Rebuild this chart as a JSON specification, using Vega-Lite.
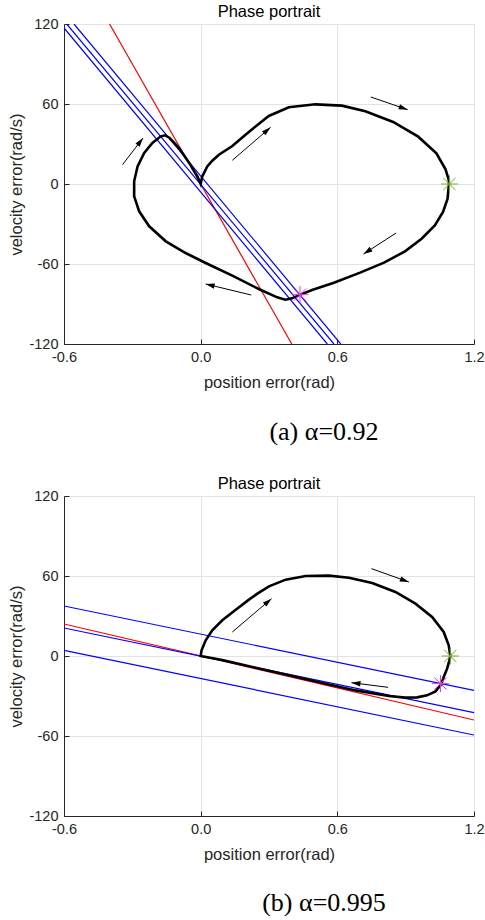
{
  "$schema": "https://vega.github.io/schema/vega-lite/v6.json",
  "padding": {"left": 8, "top": 3, "right": 0, "bottom": 0},
  "spacing": 30,
  "config": {
    "view": {"stroke": "#d9d9d9"},
    "axis": {"domainColor": "#262626", "tickColor": "#262626", "labelColor": "#262626", "titleColor": "#262626", "gridColor": "#e3e3e3", "labelFont": "Liberation Sans", "titleFont": "Liberation Sans", "labelFontSize": 14.5, "titleFontSize": 16.5, "titleFontWeight": "normal", "tickSize": -5, "labelPadding": 11, "labelFlush": false, "labelOverlap": false},
    "title": {"font": "Liberation Sans", "fontSize": 16.5, "fontWeight": "normal", "color": "#000000", "offset": -4}
  },
  "datasets": {
    "lines": [
      {"p": "a", "id": "r", "c": "red", "x": -0.4, "y": 120}, {"p": "a", "id": "r", "c": "red", "x": 0.4, "y": -120},
      {"p": "a", "id": "b1", "c": "blue", "x": -0.6, "y": 117}, {"p": "a", "id": "b1", "c": "blue", "x": 0.556, "y": -120},
      {"p": "a", "id": "b2", "c": "blue", "x": -0.588, "y": 120}, {"p": "a", "id": "b2", "c": "blue", "x": 0.585, "y": -120},
      {"p": "a", "id": "b3", "c": "blue", "x": -0.556, "y": 120}, {"p": "a", "id": "b3", "c": "blue", "x": 0.615, "y": -120},
      {"p": "b", "id": "r", "c": "red", "x": -0.6, "y": 24}, {"p": "b", "id": "r", "c": "red", "x": 1.2, "y": -48},
      {"p": "b", "id": "b1", "c": "blue", "x": -0.6, "y": 37.5}, {"p": "b", "id": "b1", "c": "blue", "x": 1.2, "y": -25.75},
      {"p": "b", "id": "b2", "c": "blue", "x": -0.6, "y": 21}, {"p": "b", "id": "b2", "c": "blue", "x": 1.2, "y": -42.5},
      {"p": "b", "id": "b3", "c": "blue", "x": -0.6, "y": 4.25}, {"p": "b", "id": "b3", "c": "blue", "x": 1.2, "y": -59.25}
    ],
    "traj": [
      {"p": "a", "i": 1, "x": 1.09, "y": 0}, {"p": "a", "i": 2, "x": 1.084, "y": -11}, {"p": "a", "i": 3, "x": 1.064, "y": -21},
      {"p": "a", "i": 4, "x": 1.028, "y": -31}, {"p": "a", "i": 5, "x": 0.97, "y": -41}, {"p": "a", "i": 6, "x": 0.897, "y": -50.5},
      {"p": "a", "i": 7, "x": 0.805, "y": -59}, {"p": "a", "i": 8, "x": 0.7, "y": -66.5}, {"p": "a", "i": 9, "x": 0.585, "y": -74},
      {"p": "a", "i": 10, "x": 0.489, "y": -79.5}, {"p": "a", "i": 11, "x": 0.438, "y": -83}, {"p": "a", "i": 12, "x": 0.401, "y": -85.75},
      {"p": "a", "i": 13, "x": 0.372, "y": -86.75}, {"p": "a", "i": 14, "x": 0.336, "y": -85}, {"p": "a", "i": 15, "x": 0.255, "y": -78.75},
      {"p": "a", "i": 16, "x": 0.139, "y": -68.75}, {"p": "a", "i": 17, "x": 0.022, "y": -59.25}, {"p": "a", "i": 18, "x": -0.066, "y": -51.75},
      {"p": "a", "i": 19, "x": -0.153, "y": -43}, {"p": "a", "i": 20, "x": -0.226, "y": -31.75}, {"p": "a", "i": 21, "x": -0.27, "y": -20.5},
      {"p": "a", "i": 22, "x": -0.292, "y": -9.25}, {"p": "a", "i": 23, "x": -0.292, "y": 2}, {"p": "a", "i": 24, "x": -0.277, "y": 13.25},
      {"p": "a", "i": 25, "x": -0.248, "y": 23.25}, {"p": "a", "i": 26, "x": -0.212, "y": 30.75}, {"p": "a", "i": 27, "x": -0.175, "y": 35.75},
      {"p": "a", "i": 28, "x": -0.156, "y": 36.5}, {"p": "a", "i": 29, "x": -0.136, "y": 34.5}, {"p": "a", "i": 30, "x": -0.095, "y": 27},
      {"p": "a", "i": 31, "x": -0.051, "y": 16}, {"p": "a", "i": 32, "x": -0.015, "y": 6}, {"p": "a", "i": 33, "x": 0, "y": 0},
      {"p": "a", "i": 34, "x": 0.007, "y": 5.7}, {"p": "a", "i": 35, "x": 0.029, "y": 13.2}, {"p": "a", "i": 36, "x": 0.051, "y": 17.5},
      {"p": "a", "i": 37, "x": 0.08, "y": 22}, {"p": "a", "i": 38, "x": 0.139, "y": 28.5}, {"p": "a", "i": 39, "x": 0.197, "y": 37},
      {"p": "a", "i": 40, "x": 0.241, "y": 43.2}, {"p": "a", "i": 41, "x": 0.299, "y": 51}, {"p": "a", "i": 42, "x": 0.387, "y": 57.5},
      {"p": "a", "i": 43, "x": 0.504, "y": 59.75}, {"p": "a", "i": 44, "x": 0.62, "y": 58.75}, {"p": "a", "i": 45, "x": 0.723, "y": 54.5},
      {"p": "a", "i": 46, "x": 0.845, "y": 46.5}, {"p": "a", "i": 47, "x": 0.955, "y": 35.5}, {"p": "a", "i": 48, "x": 1.035, "y": 23},
      {"p": "a", "i": 49, "x": 1.075, "y": 11}, {"p": "a", "i": 50, "x": 1.089, "y": 3.25}, {"p": "a", "i": 51, "x": 1.09, "y": 0},
      {"p": "b", "i": 1, "x": 1.096, "y": 0}, {"p": "b", "i": 2, "x": 1.092, "y": -3.25}, {"p": "b", "i": 3, "x": 1.082, "y": -9.5},
      {"p": "b", "i": 4, "x": 1.067, "y": -15.75}, {"p": "b", "i": 5, "x": 1.056, "y": -21.25}, {"p": "b", "i": 6, "x": 1.031, "y": -26.5},
      {"p": "b", "i": 7, "x": 0.994, "y": -29.5}, {"p": "b", "i": 8, "x": 0.95, "y": -31}, {"p": "b", "i": 9, "x": 0.899, "y": -31.2},
      {"p": "b", "i": 10, "x": 0.826, "y": -30}, {"p": "b", "i": 11, "x": 0.68, "y": -25.8}, {"p": "b", "i": 12, "x": 0.534, "y": -20.2},
      {"p": "b", "i": 13, "x": 0.387, "y": -14.5}, {"p": "b", "i": 14, "x": 0.241, "y": -8.8}, {"p": "b", "i": 15, "x": 0.095, "y": -3},
      {"p": "b", "i": 16, "x": 0, "y": 0}, {"p": "b", "i": 17, "x": 0.004, "y": 4.25}, {"p": "b", "i": 18, "x": 0.022, "y": 11.75},
      {"p": "b", "i": 19, "x": 0.051, "y": 19.25}, {"p": "b", "i": 20, "x": 0.095, "y": 26.75}, {"p": "b", "i": 21, "x": 0.154, "y": 34.75},
      {"p": "b", "i": 22, "x": 0.212, "y": 42.25}, {"p": "b", "i": 23, "x": 0.249, "y": 46.75}, {"p": "b", "i": 24, "x": 0.3, "y": 52.25},
      {"p": "b", "i": 25, "x": 0.373, "y": 57.25}, {"p": "b", "i": 26, "x": 0.461, "y": 60}, {"p": "b", "i": 27, "x": 0.563, "y": 60.25},
      {"p": "b", "i": 28, "x": 0.651, "y": 58.75}, {"p": "b", "i": 29, "x": 0.753, "y": 54.75}, {"p": "b", "i": 30, "x": 0.855, "y": 48},
      {"p": "b", "i": 31, "x": 0.943, "y": 39.25}, {"p": "b", "i": 32, "x": 1.016, "y": 29.25}, {"p": "b", "i": 33, "x": 1.067, "y": 18},
      {"p": "b", "i": 34, "x": 1.089, "y": 8}, {"p": "b", "i": 35, "x": 1.096, "y": 0}
    ],
    "arrows": [
      {"p": "a", "x": -0.343, "y": 14.5, "x2": -0.253, "y2": 34.5},
      {"p": "a", "x": 0.139, "y": 17.75, "x2": 0.307, "y2": 42.5},
      {"p": "a", "x": 0.747, "y": 65.25, "x2": 0.909, "y2": 55.75},
      {"p": "a", "x": 0.858, "y": -36.75, "x2": 0.715, "y2": -52.5},
      {"p": "a", "x": 0.222, "y": -83.25, "x2": 0.022, "y2": -75},
      {"p": "b", "x": 0.139, "y": 18, "x2": 0.311, "y2": 43},
      {"p": "b", "x": 0.75, "y": 65.5, "x2": 0.914, "y2": 55.5},
      {"p": "b", "x": 0.823, "y": -23.5, "x2": 0.662, "y2": -20}
    ],
    "stars": [
      {"p": "a", "c": "g", "x": 1.092, "y": 0}, {"p": "a", "c": "m", "x": 0.436, "y": -83},
      {"p": "b", "c": "g", "x": 1.096, "y": 0}, {"p": "b", "c": "m", "x": 1.053, "y": -20.7}
    ]
  },
  "vconcat": [
    {
      "title": {"text": "(a) α=0.92", "orient": "bottom", "font": "Liberation Serif", "fontSize": 26, "fontWeight": "normal", "dx": 260, "offset": 27, "anchor": "middle", "frame": "group", "color": "#000000"},
      "vconcat": [
        {
          "title": {"text": "Phase portrait", "frame": "group"},
          "width": 410, "height": 320,
          "resolve": {"scale": {"color": "independent"}},
          "encoding": {
            "x": {"field": "x", "type": "quantitative", "scale": {"domain": [-0.6, 1.2], "nice": false, "zero": false}, "axis": {"title": "position error(rad)", "values": [-0.6, 0, 0.6, 1.2], "labelExpr": "replace(datum.label, '−', '-')", "titlePadding": 11}},
            "y": {"field": "y", "type": "quantitative", "scale": {"domain": [-120, 120], "nice": false, "zero": false}, "axis": {"title": "velocity error(rad/s)", "values": [-120, -60, 0, 60, 120], "labelExpr": "replace(datum.label, '−', '-')", "titlePadding": 4}}
          },
          "layer": [
            {"data": {"name": "lines"}, "transform": [{"filter": "datum.p === 'a'"}], "mark": {"type": "line", "strokeWidth": 1.2, "clip": true},
             "encoding": {"color": {"field": "c", "type": "nominal", "scale": {"domain": ["blue", "red"], "range": ["#0000ff", "#ff0000"]}, "legend": null}, "detail": {"field": "id"}}},
            {"data": {"name": "traj"}, "transform": [{"filter": "datum.p === 'a'"}], "mark": {"type": "line", "strokeWidth": 2.6, "color": "#000000", "clip": true},
             "encoding": {"order": {"field": "i", "type": "quantitative"}}},
            {"data": {"name": "arrows"}, "transform": [{"filter": "datum.p === 'a'"}], "mark": {"type": "rule", "strokeWidth": 1, "color": "#000000"},
             "encoding": {"x2": {"field": "x2"}, "y2": {"field": "y2"}}},
            {"data": {"name": "arrows"}, "transform": [{"filter": "datum.p === 'a'"}, {"calculate": "atan2((datum.x2 - datum.x) * 228, (datum.y2 - datum.y) * 4 / 3) * 180 / PI", "as": "ang"}],
             "mark": {"type": "point", "shape": "M0,0L0.6,2L-0.6,2Z", "filled": true, "size": 81, "color": "#000000", "opacity": 1, "strokeWidth": 0},
             "encoding": {"x": {"field": "x2", "type": "quantitative"}, "y": {"field": "y2", "type": "quantitative"}, "angle": {"field": "ang", "type": "quantitative", "scale": null}}},
            {"data": {"name": "stars"}, "transform": [{"filter": "datum.p === 'a'"}],
             "mark": {"type": "point", "shape": "M-1,0L1,0M0,-1L0,1M-0.72,-0.72L0.72,0.72M-0.72,0.72L0.72,-0.72", "filled": false, "size": 289, "opacity": 1, "strokeWidth": 1},
             "encoding": {"color": {"field": "c", "type": "nominal", "scale": {"domain": ["g", "m"], "range": ["#77ac30", "#e83ce8"]}, "legend": null}}}
          ]
        }
      ]
    },
    {
      "title": {"text": "(b) α=0.995", "orient": "bottom", "font": "Liberation Serif", "fontSize": 26, "fontWeight": "normal", "dx": 260, "offset": 26, "anchor": "middle", "frame": "group", "color": "#000000"},
      "vconcat": [
        {
          "title": {"text": "Phase portrait", "frame": "group"},
          "width": 410, "height": 320,
          "resolve": {"scale": {"color": "independent"}},
          "encoding": {
            "x": {"field": "x", "type": "quantitative", "scale": {"domain": [-0.6, 1.2], "nice": false, "zero": false}, "axis": {"title": "position error(rad)", "values": [-0.6, 0, 0.6, 1.2], "labelExpr": "replace(datum.label, '−', '-')", "titlePadding": 11}},
            "y": {"field": "y", "type": "quantitative", "scale": {"domain": [-120, 120], "nice": false, "zero": false}, "axis": {"title": "velocity error(rad/s)", "values": [-120, -60, 0, 60, 120], "labelExpr": "replace(datum.label, '−', '-')", "titlePadding": 4}}
          },
          "layer": [
            {"data": {"name": "lines"}, "transform": [{"filter": "datum.p === 'b'"}], "mark": {"type": "line", "strokeWidth": 1.2, "clip": true},
             "encoding": {"color": {"field": "c", "type": "nominal", "scale": {"domain": ["blue", "red"], "range": ["#0000ff", "#ff0000"]}, "legend": null}, "detail": {"field": "id"}}},
            {"data": {"name": "traj"}, "transform": [{"filter": "datum.p === 'b'"}], "mark": {"type": "line", "strokeWidth": 2.6, "color": "#000000", "clip": true},
             "encoding": {"order": {"field": "i", "type": "quantitative"}}},
            {"data": {"name": "arrows"}, "transform": [{"filter": "datum.p === 'b'"}], "mark": {"type": "rule", "strokeWidth": 1, "color": "#000000"},
             "encoding": {"x2": {"field": "x2"}, "y2": {"field": "y2"}}},
            {"data": {"name": "arrows"}, "transform": [{"filter": "datum.p === 'b'"}, {"calculate": "atan2((datum.x2 - datum.x) * 228, (datum.y2 - datum.y) * 4 / 3) * 180 / PI", "as": "ang"}],
             "mark": {"type": "point", "shape": "M0,0L0.6,2L-0.6,2Z", "filled": true, "size": 81, "color": "#000000", "opacity": 1, "strokeWidth": 0},
             "encoding": {"x": {"field": "x2", "type": "quantitative"}, "y": {"field": "y2", "type": "quantitative"}, "angle": {"field": "ang", "type": "quantitative", "scale": null}}},
            {"data": {"name": "stars"}, "transform": [{"filter": "datum.p === 'b'"}],
             "mark": {"type": "point", "shape": "M-1,0L1,0M0,-1L0,1M-0.72,-0.72L0.72,0.72M-0.72,0.72L0.72,-0.72", "filled": false, "size": 289, "opacity": 1, "strokeWidth": 1},
             "encoding": {"color": {"field": "c", "type": "nominal", "scale": {"domain": ["g", "m"], "range": ["#77ac30", "#e83ce8"]}, "legend": null}}}
          ]
        }
      ]
    }
  ]
}
